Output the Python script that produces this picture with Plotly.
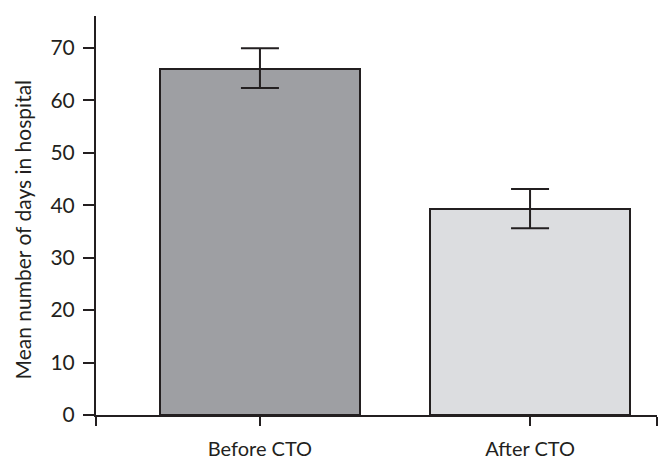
import plotly.graph_objects as go

CATEGORIES = ["Before CTO", "After CTO"]
MEAN_DAYS = [66.0, 39.2]
ERR_PLUS = [3.95, 3.9]
ERR_MINUS = [3.65, 3.6]
BAR_COLORS = ["#9e9fa3", "#dcdde0"]
Y_TICKS = [0, 10, 20, 30, 40, 50, 60, 70]
Y_TITLE = "Mean number of days in hospital"

INK = "#231f20"
FONT = "Lato, 'Open Sans', sans-serif"
X_LO, X_HI = -0.607, 1.47

xs = list(range(len(CATEGORIES)))

fig = go.Figure()
fig.add_trace(go.Bar(
    x=xs,
    y=MEAN_DAYS,
    width=0.74,
    marker=dict(color=BAR_COLORS, line=dict(color=INK, width=2)),
    error_y=dict(type="data", symmetric=False, array=ERR_PLUS, arrayminus=ERR_MINUS,
                 color=INK, thickness=2, width=19),
    showlegend=False,
))

# page body has an 8px margin, so the figure is shrunk by that much
fig.update_layout(
    width=658, height=464,
    margin=dict(l=88, r=9, t=8, b=57),
    paper_bgcolor="white", plot_bgcolor="white",
    font=dict(family=FONT, color=INK, size=21),
    bargap=0,
)
fig.update_xaxes(
    range=[X_LO, X_HI],
    tickvals=[X_LO] + xs + [X_HI],
    ticktext=[""] + CATEGORIES + [""],
    ticks="outside", ticklen=9, tickwidth=2, tickcolor=INK,
    showline=True, linecolor=INK, linewidth=2,
    showgrid=False, zeroline=False,
    tickfont=dict(size=20), ticklabelstandoff=6,
)
fig.update_yaxes(
    range=[0, 76.1],
    tickvals=Y_TICKS,
    ticks="outside", ticklen=11, tickwidth=2, tickcolor=INK,
    showline=True, linecolor=INK, linewidth=2,
    showgrid=False, zeroline=False,
    ticklabelstandoff=4,
)
# y title placed by hand: it sits a little below the middle of the axis
fig.add_annotation(
    text=Y_TITLE, textangle=-90, showarrow=False,
    xref="paper", yref="paper", x=0, y=0.5, xshift=-74, yshift=-14,
    xanchor="center", yanchor="middle",
    font=dict(size=21),
)

fig.write_html("out.html")
